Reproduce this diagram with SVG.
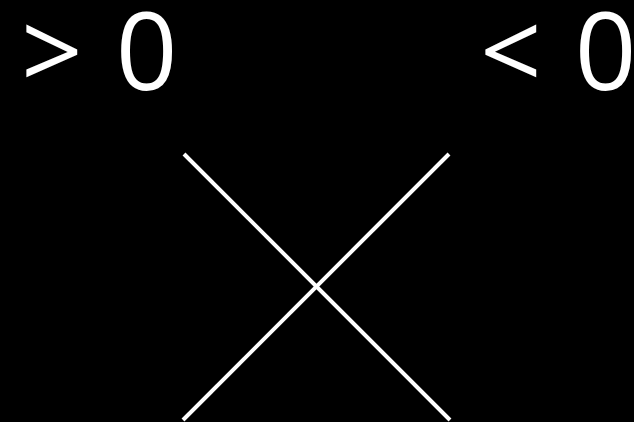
<svg xmlns="http://www.w3.org/2000/svg" width="634" height="422" viewBox="0 0 634 422">
<style>
.lbl{font-family:"Open Sans","DejaVu Sans",sans-serif;font-size:108px;fill:#fff;word-spacing:5px}
.ln{stroke:#fff;stroke-width:4;fill:none}
</style>
<rect width="634" height="422" fill="#000"/>
<g id="label-pos"><text class="lbl" x="21" y="90">&gt; 0</text></g>
<g id="label-neg"><text class="lbl" x="480" y="90">&lt; 0</text></g>
<g id="connectors">
<line class="ln" x1="184" y1="154" x2="450" y2="420"/>
<line class="ln" x1="449" y1="154" x2="183" y2="420"/>
</g>
</svg>
